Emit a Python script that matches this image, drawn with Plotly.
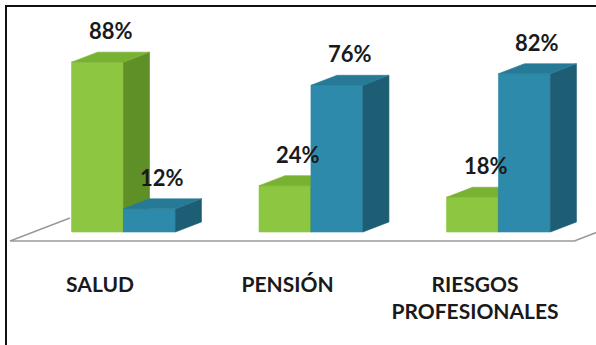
import plotly.graph_objects as go

# ---- data ----
categories = ["SALUD", "PENSIÓN", "RIESGOS<br>PROFESIONALES"]
green_values = [88, 24, 18]
teal_values = [12, 76, 82]

# ---- style / geometry (not data) ----
GREEN = dict(front="#8DC641", side="#5F8F27", top="#79B233")
TEAL = dict(front="#2D8AAB", side="#1D5E74", top="#277A96")
BAR_W = 0.277          # front-face width in category units
DX = 0.139             # oblique depth offset (x units)
DY = 5.2               # oblique depth offset (y units, %)
SETBACK = 0.9          # bars sit this many depths behind the floor front edge
FLOOR_DEPTH = 2.3
FONT = "Lato, sans-serif"

fig = go.Figure()


def poly(xs, ys, color):
    fig.add_trace(go.Scatter(
        x=xs + [xs[0]], y=ys + [ys[0]], mode="lines", fill="toself",
        fillcolor=color, line=dict(color=color, width=0.6),
        hoverinfo="skip", showlegend=False))


# floor outline
x_left, x_right = -0.48, 2.53
y_front = -SETBACK * DY
y_back = y_front + FLOOR_DEPTH * DY
fig.add_trace(go.Scatter(
    x=[x_left + FLOOR_DEPTH * DX, x_left, x_right, x_right + FLOOR_DEPTH * DX],
    y=[y_back, y_front, y_front, y_back], mode="lines",
    line=dict(color="#9a9a9a", width=1.6), hoverinfo="skip", showlegend=False))

annotations = []
for i, cat in enumerate(categories):
    pair_left = i + SETBACK * DX - BAR_W
    for j, (vals, col) in enumerate(((green_values, GREEN), (teal_values, TEAL))):
        v = vals[i]
        xl = pair_left + j * BAR_W
        xr = xl + BAR_W
        # front face
        poly([xl, xr, xr, xl], [0, 0, v, v], col["front"])
        # side face
        poly([xr, xr + DX, xr + DX, xr], [0, DY, v + DY, v], col["side"])
        # top face
        poly([xl, xr, xr + DX, xl + DX], [v, v, v + DY, v + DY], col["top"])
        annotations.append(dict(
            x=(xl + xr) / 2 + DX / 2, y=v + DY, text=f"{v}%",
            showarrow=False, yanchor="bottom", yshift=6,
            font=dict(family=FONT, size=22, color="#1a1a1a", weight="bold")))

fig.update_layout(
    width=596, height=345,
    margin=dict(l=8, r=0, t=10, b=85),
    paper_bgcolor="white", plot_bgcolor="white",
    showlegend=False,
    annotations=annotations,
    xaxis=dict(range=[-0.4907, 2.6453], tickvals=[0, 1, 2], ticktext=categories,
               showgrid=False, zeroline=False, showline=False, ticks="",
               ticklabelstandoff=10,
               tickfont=dict(family=FONT, size=21, color="#1a1a1a", weight="bold"),
               fixedrange=True),
    yaxis=dict(range=[-14.51, 115.03], visible=False, fixedrange=True),
    shapes=[dict(type="path", xref="paper", yref="paper",
                 path="M -0.0034,-0.4 L -0.0034,1.016 L 1.02,1.016",
                 line=dict(color="#111111", width=2))],
)

fig.write_html("out.html")
